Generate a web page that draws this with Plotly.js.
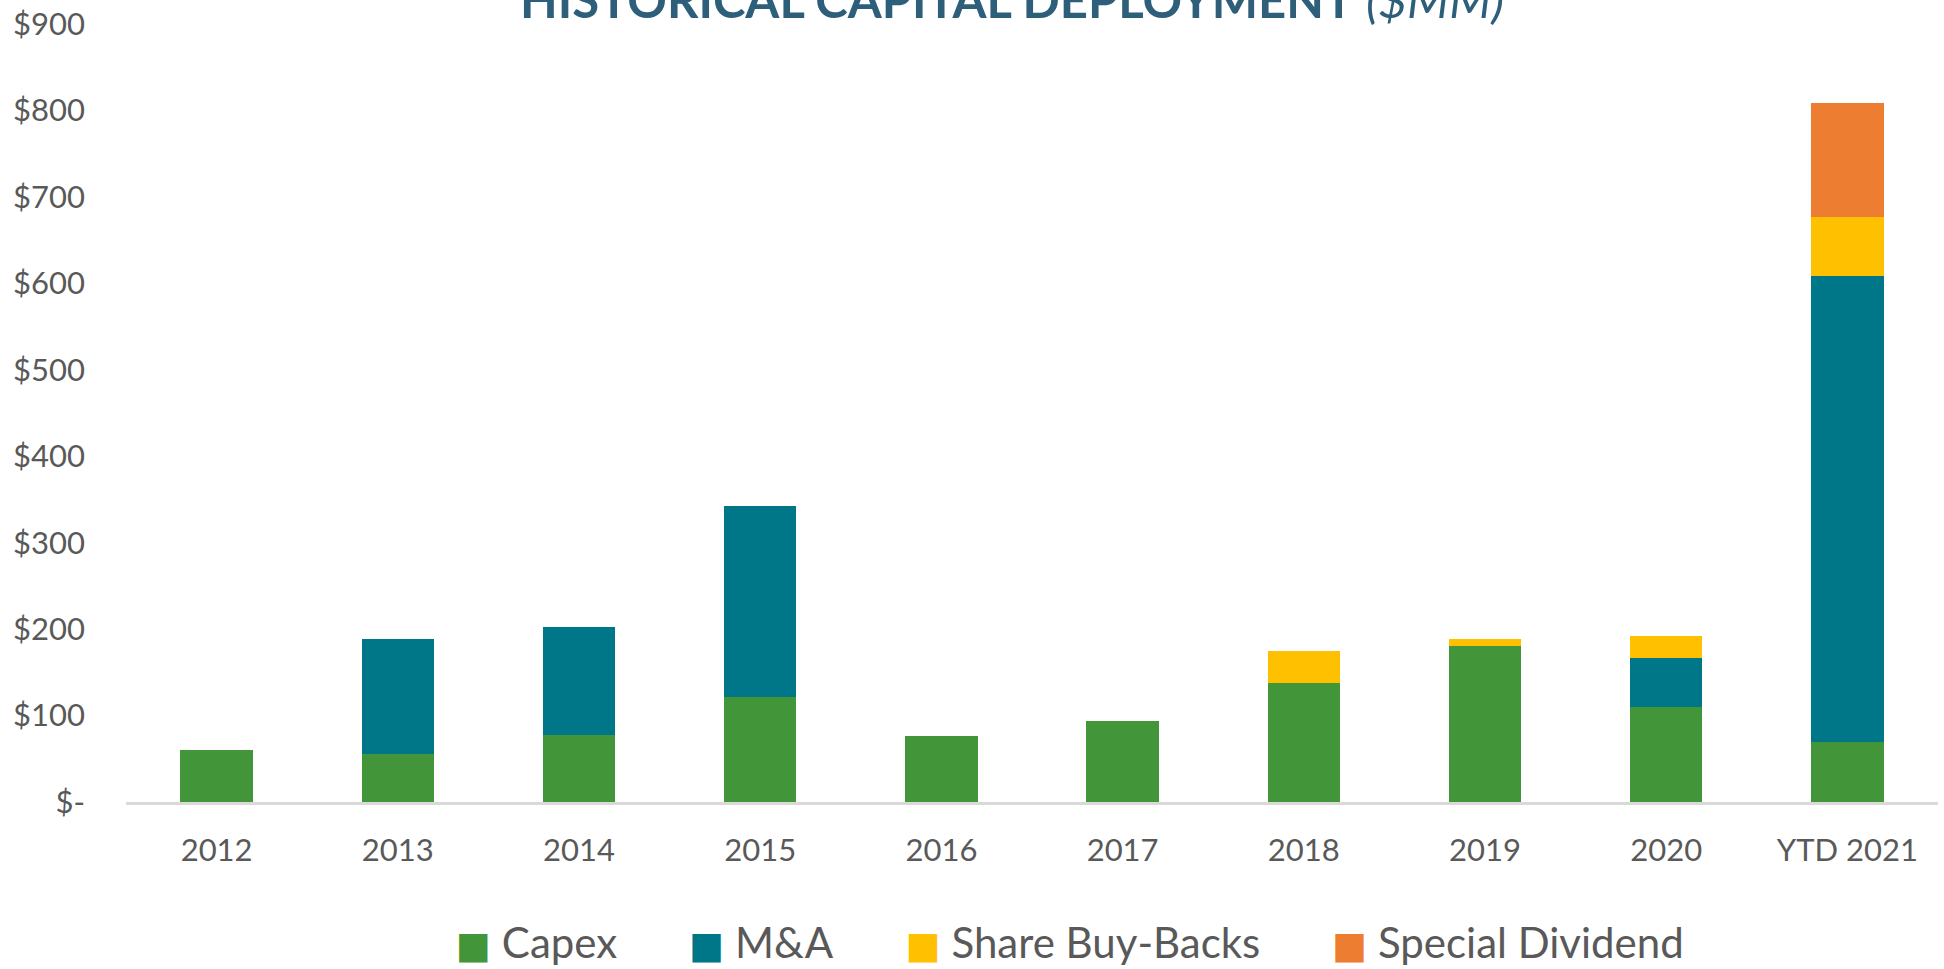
<!DOCTYPE html>
<html>
<head>
<meta charset="utf-8">
<script src="https://cdn.plot.ly/plotly-3.0.1.min.js"></script>
<style>html,body{margin:0;padding:0;background:#fff;}#chart{width:1944px;height:969px;}</style>
</head>
<body>
<div id="chart"></div>
<script>
const categories = ['2012','2013','2014','2015','2016','2017','2018','2019','2020','YTD 2021'];
const capex = [60, 56, 78, 121, 76, 94, 138, 180, 110, 69];
const mna = [0, 132, 124, 222, 0, 0, 0, 0, 57, 540];
const buybacks = [0, 0, 0, 0, 0, 0, 37, 8, 25, 68];
const specialDividend = [0, 0, 0, 0, 0, 0, 0, 0, 0, 132];
const seriesNames = ['Capex', 'M&A', 'Share Buy-Backs', 'Special Dividend'];
const seriesColors = ['#43953A', '#007789', '#FFC000', '#ED7D31'];
const yTickVals = [0, 100, 200, 300, 400, 500, 600, 700, 800, 900];
const yTickText = ['$-', '$100', '$200', '$300', '$400', '$500', '$600', '$700', '$800', '$900'];

const seriesValues = [capex, mna, buybacks, specialDividend];
const traces = seriesValues.map((vals, i) => ({
  type: 'bar', x: categories, y: vals, name: seriesNames[i],
  marker: {color: seriesColors[i]}, showlegend: false, legendgroup: 'g' + i,
  hovertemplate: '%{x}: $%{y}MM<extra>' + seriesNames[i] + '</extra>'
}));
seriesNames.forEach((n, i) => {
  traces.push({
    type: 'scatter', mode: 'none', x: [null], y: [null], legendgroup: 'g' + i,
    name: '<span style="color:' + seriesColors[i] + ';font-family:DejaVu Sans;font-size:37px">■</span> ' + n,
    showlegend: true
  });
});

const layout = {
  width: 1944, height: 969,
  paper_bgcolor: '#ffffff', plot_bgcolor: '#ffffff',
  margin: {l: 126, r: 6, t: 24, b: 167, autoexpand: false},
  barmode: 'stack', bargap: 0.6,
  font: {family: 'Lato, "DejaVu Sans", sans-serif', color: '#595959'},
  title: {
    text: '<b>HISTORICAL CAPITAL DEPLOYMENT</b> <i>($MM)</i>',
    font: {family: 'Lato, sans-serif', size: 49, color: '#2D5F7B'},
    x: 0.5206, xref: 'container', xanchor: 'center',
    y: 0.9817, yref: 'container', yanchor: 'bottom'
  },
  xaxis: {
    type: 'category', showgrid: false, zeroline: false,
    showline: true, linecolor: '#D9D9D9', linewidth: 2.5,
    ticks: '', tickfont: {size: 31, color: '#595959'}, ticklabelstandoff: 19
  },
  yaxis: {
    range: [0, 900], showgrid: false, zeroline: false, showline: false,
    tickvals: yTickVals, ticktext: yTickText, ticks: '',
    tickfont: {size: 31, color: '#595959'}, ticklabelstandoff: 40
  },
  legend: {
    orientation: 'h', x: 0.1452, xanchor: 'left', y: -0.1795, yanchor: 'middle',
    font: {size: 42, color: '#595959'}, itemwidth: 57,
    bgcolor: 'rgba(0,0,0,0)'
  },
  showlegend: true
};

Plotly.newPlot('chart', traces, layout, {displayModeBar: false});
</script>
</body>
</html>
